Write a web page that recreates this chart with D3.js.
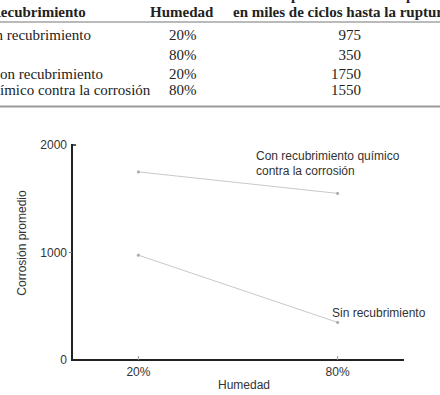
<!DOCTYPE html>
<html>
<head>
<meta charset="utf-8">
<script src="https://cdn.jsdelivr.net/npm/d3@7"></script>
<style>
  body { margin: 0; background: #fff; }
  svg { display: block; }
</style>
</head>
<body>
<div id="canvas"></div>
<script>
"use strict"

/* Canvas size */
let svgWidth = 440;
let svgHeight = 395;

let humidity = [20, 80];
let humidityLabels = ["20%", "80%"];
let sinValues = [975, 350];
let conValues = [1750, 1550];
let yTicks = [0, 1000, 2000];

let svg = d3.select("#canvas")
    .append("svg")
    .attr("width", svgWidth)
    .attr("height", svgHeight);

/* ---------- Table at the top (cropped on the left and top) ---------- */
let serif = "'Liberation Serif', 'Times New Roman', serif";
let tableColor = "#222";

svg.append("text")
    .attr("x", 348)
    .attr("y", 0)
    .attr("text-anchor", "middle")
    .style("font-family", serif)
    .style("font-size", "15px")
    .style("font-weight", "bold")
    .attr("fill", tableColor)
    .text("Duración promedio de vida por fatiga");

let headers = [
    { text: "Recubrimiento", x: -10 },
    { text: "Humedad", x: 150 },
    { text: "en miles de ciclos hasta la ruptura", x: 233 }
];
headers.forEach(function (h) {
    svg.append("text")
        .attr("x", h.x)
        .attr("y", 17)
        .style("font-family", serif)
        .style("font-size", "15px")
        .style("font-weight", "bold")
        .attr("fill", tableColor)
        .text(h.text);
});

svg.append("line")
    .attr("x1", 0).attr("x2", svgWidth)
    .attr("y1", 22).attr("y2", 22)
    .attr("stroke", "#777")
    .attr("stroke-width", 1.2);

/* Rows built from the arrays */
let rows = [
    { name: "Sin recubrimiento", nameX: -17, h: humidityLabels[0], v: sinValues[0], y: 39.5 },
    { name: "", nameX: 0, h: humidityLabels[1], v: sinValues[1], y: 59.5 },
    { name: "Con recubrimiento", nameX: -10, h: humidityLabels[0], v: conValues[0], y: 79 },
    { name: "químico contra la corrosión", nameX: -15, h: humidityLabels[1], v: conValues[1], y: 94.5 }
];
rows.forEach(function (r) {
    svg.append("text")
        .attr("x", r.nameX)
        .attr("y", r.y)
        .style("font-family", serif)
        .style("font-size", "15px")
        .attr("fill", tableColor)
        .text(r.name);
    svg.append("text")
        .attr("x", 169)
        .attr("y", r.y)
        .style("font-family", serif)
        .style("font-size", "15px")
        .attr("fill", tableColor)
        .text(r.h);
    svg.append("text")
        .attr("x", 361)
        .attr("y", r.y)
        .attr("text-anchor", "end")
        .style("font-family", serif)
        .style("font-size", "15px")
        .attr("fill", tableColor)
        .text(r.v);
});

svg.append("line")
    .attr("x1", 0).attr("x2", svgWidth)
    .attr("y1", 106.5).attr("y2", 106.5)
    .attr("stroke", "#999")
    .attr("stroke-width", 2);

/* ---------- Interaction plot ---------- */
let sans = "'Liberation Sans', Arial, Helvetica, sans-serif";
let textColor = "#333";

let xScale = d3.scaleLinear()
    .domain([0, 100])
    .range([72, 404]);

let yScale = d3.scaleLinear()
    .domain([0, 2000])
    .range([360, 145]);

/* lines for each coating */
let series = [
    { values: sinValues },
    { values: conValues }
];
let lineGen = d3.line()
    .x(function (d, i) { return xScale(humidity[i]); })
    .y(function (d) { return yScale(d); });

series.forEach(function (s) {
    svg.append("path")
        .datum(s.values)
        .attr("d", lineGen)
        .attr("fill", "none")
        .attr("stroke", "#c9c9c9")
        .attr("stroke-width", 1);
    svg.selectAll(null)
        .data(s.values)
        .join("circle")
        .attr("cx", function (d, i) { return xScale(humidity[i]); })
        .attr("cy", function (d) { return yScale(d); })
        .attr("r", 1.6)
        .attr("fill", "#b0b0b0");
});

/* y axis */
svg.append("line")
    .attr("x1", xScale(0)).attr("x2", xScale(0))
    .attr("y1", yScale(2000) - 1).attr("y2", yScale(0) + 1)
    .attr("stroke", "#222")
    .attr("stroke-width", 2);
svg.append("line")
    .attr("x1", xScale(0)).attr("x2", xScale(0) + 4)
    .attr("y1", yScale(2000)).attr("y2", yScale(2000))
    .attr("stroke", "#222")
    .attr("stroke-width", 1.5);
svg.append("line")
    .attr("x1", xScale(0) - 3).attr("x2", xScale(0))
    .attr("y1", yScale(1000)).attr("y2", yScale(1000))
    .attr("stroke", "#777")
    .attr("stroke-width", 1);

yTicks.forEach(function (t) {
    svg.append("text")
        .attr("x", 67)
        .attr("y", yScale(t) + 4)
        .attr("text-anchor", "end")
        .style("font-family", sans)
        .style("font-size", "12px")
        .attr("fill", textColor)
        .text(t);
});

/* x axis */
svg.append("line")
    .attr("x1", xScale(0) - 1).attr("x2", xScale(100))
    .attr("y1", yScale(0)).attr("y2", yScale(0))
    .attr("stroke", "#222")
    .attr("stroke-width", 2);

humidity.forEach(function (h, i) {
    svg.append("line")
        .attr("x1", xScale(h)).attr("x2", xScale(h))
        .attr("y1", yScale(0) - 4).attr("y2", yScale(0))
        .attr("stroke", "#999")
        .attr("stroke-width", 1);
    svg.append("text")
        .attr("x", xScale(h))
        .attr("y", 376)
        .attr("text-anchor", "middle")
        .style("font-family", sans)
        .style("font-size", "12px")
        .attr("fill", textColor)
        .text(humidityLabels[i]);
});

/* axis titles */
svg.append("text")
    .attr("x", 244)
    .attr("y", 389)
    .attr("text-anchor", "middle")
    .style("font-family", sans)
    .style("font-size", "12px")
    .attr("fill", textColor)
    .text("Humedad");

svg.append("text")
    .attr("transform", "translate(26,243) rotate(-90)")
    .attr("text-anchor", "middle")
    .style("font-family", sans)
    .style("font-size", "12px")
    .attr("fill", textColor)
    .text("Corrosión promedio");

/* series labels */
svg.append("text")
    .attr("x", 256)
    .attr("y", 160)
    .style("font-family", sans)
    .style("font-size", "12px")
    .attr("fill", textColor)
    .text("Con recubrimiento químico");
svg.append("text")
    .attr("x", 256)
    .attr("y", 175)
    .style("font-family", sans)
    .style("font-size", "12px")
    .attr("fill", textColor)
    .text("contra la corrosión");
svg.append("text")
    .attr("x", 332)
    .attr("y", 317)
    .style("font-family", sans)
    .style("font-size", "12px")
    .attr("fill", textColor)
    .text("Sin recubrimiento");
</script>
</body>
</html>
